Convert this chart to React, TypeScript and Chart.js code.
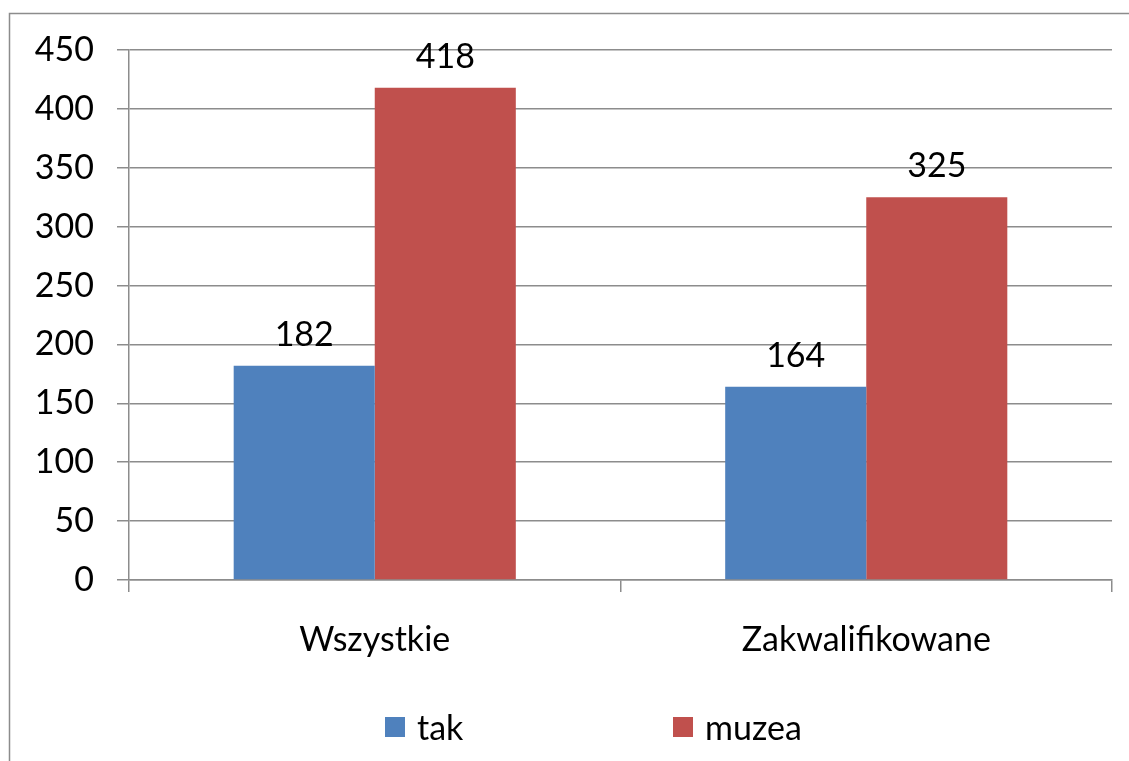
import React, { useEffect, useRef } from "react";
import { Chart, registerables } from "chart.js";

Chart.register(...registerables);

const categories = ["Wszystkie", "Zakwalifikowane"];
const seriesNames = ["tak", "muzea"];
const takValues = [182, 164];
const muzeaValues = [418, 325];
const seriesColors = ["#4F81BD", "#C0504D"];
const yTicks = [0, 50, 100, 150, 200, 250, 300, 350, 400, 450];

const FONT = "Lato, 'Open Sans', sans-serif";
const FS = 34;
const GRID = "#8c8c8c";

const framePlugin = {
  id: "frame",
  beforeDraw(chart: any) {
    const ctx = chart.ctx;
    ctx.save();
    ctx.fillStyle = "#ffffff";
    ctx.fillRect(0, 0, chart.width, chart.height);
    ctx.strokeStyle = GRID;
    ctx.lineWidth = 1.5;
    ctx.strokeRect(9.5, 13.5, chart.width + 100, chart.height + 100);
    ctx.restore();
  },
};

const valueLabelPlugin = {
  id: "valueLabels",
  afterDatasetsDraw(chart: any) {
    const ctx = chart.ctx;
    ctx.save();
    ctx.font = `${FS}px ${FONT}`;
    ctx.fillStyle = "#000000";
    ctx.textAlign = "center";
    ctx.textBaseline = "alphabetic";
    chart.data.datasets.forEach((ds: any, di: number) => {
      const meta = chart.getDatasetMeta(di);
      meta.data.forEach((bar: any, i: number) => {
        ctx.fillText(String(ds.data[i]), bar.x, bar.y - 20);
      });
    });
    ctx.restore();
  },
};

const legendPlugin = {
  id: "customLegend",
  afterDraw(chart: any) {
    const ctx = chart.ctx;
    ctx.save();
    ctx.font = `${FS}px ${FONT}`;
    ctx.textBaseline = "middle";
    ctx.textAlign = "left";
    const startX = [385, 673];
    chart.data.datasets.forEach((ds: any, di: number) => {
      const x = startX[di];
      ctx.fillStyle = ds.backgroundColor;
      ctx.fillRect(x, 717, 20, 20);
      ctx.fillStyle = "#000000";
      ctx.fillText(ds.label, x + 32, 729);
    });
    ctx.restore();
  },
};

export default function App() {
  const ref = useRef<HTMLCanvasElement | null>(null);

  useEffect(() => {
    if (!ref.current) return;
    const chart = new Chart(ref.current, {
      type: "bar",
      data: {
        labels: categories,
        datasets: [
          {
            label: seriesNames[0],
            data: takValues,
            backgroundColor: seriesColors[0],
            categoryPercentage: 0.574,
            barPercentage: 1,
          },
          {
            label: seriesNames[1],
            data: muzeaValues,
            backgroundColor: seriesColors[1],
            categoryPercentage: 0.574,
            barPercentage: 1,
          },
        ],
      },
      options: {
        responsive: false,
        animation: false,
        devicePixelRatio: 1,
        layout: { padding: { top: 50, right: 17, left: 0, bottom: 0 } },
        plugins: {
          legend: { display: false },
          tooltip: { enabled: false },
        },
        scales: {
          x: {
            offset: true,
            grid: {
              offset: true,
              drawOnChartArea: false,
              drawTicks: true,
              tickLength: 12,
              color: GRID,
              lineWidth: 1.5,
            },
            border: { display: true, color: GRID, width: 1.5 },
            ticks: {
              color: "#000000",
              font: { family: FONT, size: FS },
              padding: 28,
            },
            afterFit(scale: any) {
              scale.height = 181;
            },
          },
          y: {
            min: 0,
            max: 450,
            afterBuildTicks(scale: any) {
              scale.ticks = yTicks.map((v) => ({ value: v }));
            },
            grid: {
              color: GRID,
              lineWidth: 1.5,
              tickLength: 12,
              drawTicks: true,
            },
            border: { display: true, color: GRID, width: 1.5 },
            ticks: {
              color: "#000000",
              font: { family: FONT, size: FS },
              padding: 23,
            },
            afterFit(scale: any) {
              scale.width = 129;
            },
          },
        },
      },
      plugins: [framePlugin, valueLabelPlugin, legendPlugin],
    });
    return () => chart.destroy();
  }, []);

  return (
    <div style={{ position: "absolute", left: 0, top: 0, width: 1129, height: 761, background: "#fff" }}>
      <canvas ref={ref} width={1129} height={761} style={{ display: "block" }} />
    </div>
  );
}
